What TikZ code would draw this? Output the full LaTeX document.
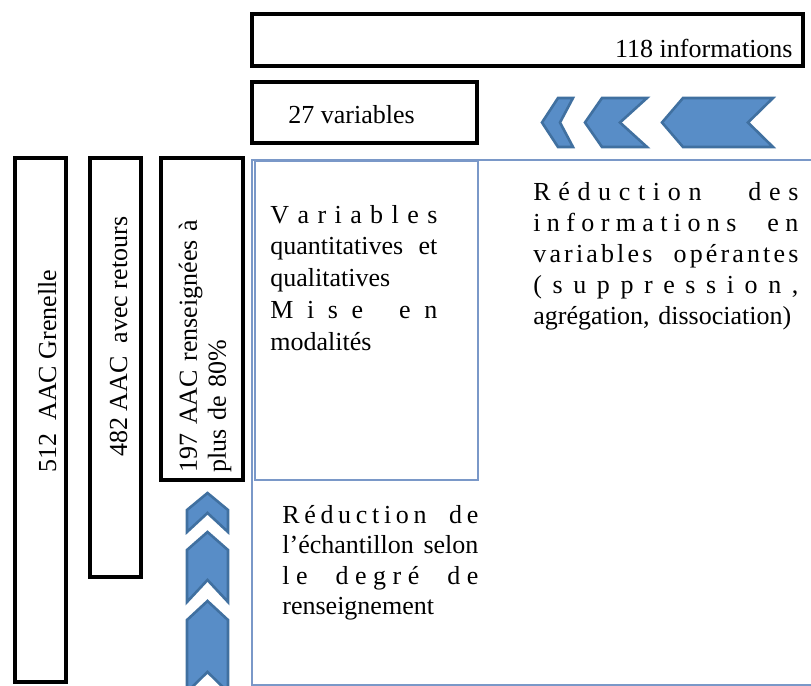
\documentclass[tikz,border=0pt]{standalone}
\usepackage{fontspec}
\setmainfont{Liberation Serif}
\usetikzlibrary{fit}
\definecolor{chevFill}{RGB}{88,141,199}
\definecolor{chevLine}{RGB}{64,112,160}
\definecolor{frameBlue}{RGB}{122,152,200}
\newcommand{\tikzChevronLeft}[4]{
  \path[chev] (#1,122.5) -- (#2,98) -- (#4,98) -- (#3,122.5) -- (#4,147) -- (#2,147) -- cycle;
}
\newcommand{\tikzChevronUp}[4]{
  \path[chev] (207.5,#1) -- (228,#2) -- (228,#4) -- (207.5,#3) -- (187,#4) -- (187,#2) -- cycle;
}
\newcommand{\wgap}[1]{\ \hspace{0pt plus #1fil}}

\begin{document}
\begin{tikzpicture}[x=0.5pt, y=-0.5pt,
  box/.style={draw, line width=2pt, inner sep=0pt},
  frameLine/.style={draw=frameBlue, line width=0.6pt, inner sep=0pt},
  chev/.style={fill=chevFill, draw=chevLine, line width=1.3pt},
  lbl/.style={font=\fontsize{13}{15.5}\selectfont, inner sep=0pt},
  blk/.style={lbl, align=left}]
  \useasboundingbox (0,0) rectangle (811,686);
  \clip (0,0) rectangle (811,686);

  % blue frames
  \node[frameLine, fit={(252,160) (830,685)}] (frame) {};
  \node[frameLine, fit={(255,161) (478,480)}] (varBlock) {};

  % boxes
  \node[box, fit={(252,14) (803,66)}] (info) {};
  \node[box, fit={(252,82) (477,143)}] (vars) {};
  \node[box, fit={(15,158) (66,682)}] (aac512) {};
  \node[box, fit={(90,158) (141,577)}] (aac482) {};
  \node[box, fit={(161,158) (243,480)}] (aac197) {};

  \node[lbl, anchor=base east] (infoText) at (793,57) {118 informations};
  \node[lbl, anchor=base west] (varsText) at (288,123) {27 variables};
  \node[lbl, rotate=90, anchor=base west] (aac512Text) at (56,473) {512\ \ AAC Grenelle};
  \node[lbl, rotate=90, anchor=base west] (aac482Text) at (127,457) {482 AAC\ \ avec retours};
  \node[blk, rotate=90, anchor=base west, text width=140pt,
        font=\fontsize{13}{14.5}\selectfont] (aac197Text) at (197,473)
        {197 AAC renseignées à\\plus de 80\%};

  % text blocks
  \node[blk, text width=83.5pt, anchor=base west,
        font=\fontsize{13}{15.9}\selectfont] (varDesc) at (270,223) {
    \makebox[\linewidth][s]{V\hfil a\hfil r\hfil i\hfil a\hfil b\hfil l\hfil e\hfil s}\\
    \makebox[\linewidth][s]{quantitatives\hfil et}\\
    qualitatives\\
    \makebox[\linewidth][s]{M\hfil i\hfil s\hfil e\wgap{2}e\hfil n}\\
    modalités};
  \node[blk, text width=132.5pt, anchor=base west,
        font=\fontsize{13}{15.5}\selectfont] (infoDesc) at (533,200) {
    \makebox[\linewidth][s]{R\hfil é\hfil d\hfil u\hfil c\hfil t\hfil i\hfil o\hfil n\wgap{5}d\hfil e\hfil s}\\
    \makebox[\linewidth][s]{i\hfil n\hfil f\hfil o\hfil r\hfil m\hfil a\hfil t\hfil i\hfil o\hfil n\hfil s\wgap{3.5}e\hfil n}\\
    \makebox[\linewidth][s]{v\hfil a\hfil r\hfil i\hfil a\hfil b\hfil l\hfil e\hfil s\wgap{4}o\hfil p\hfil é\hfil r\hfil a\hfil n\hfil t\hfil e\hfil s}\\
    \makebox[\linewidth][s]{(\hfil s\hfil u\hfil p\hfil p\hfil r\hfil e\hfil s\hfil s\hfil i\hfil o\hfil n\hfil ,}\\
    agrégation, dissociation)};
  \node[blk, text width=98pt, anchor=base west,
        font=\fontsize{13}{15.25}\selectfont] (aacDesc) at (282,523) {
    \makebox[\linewidth][s]{R\hfil é\hfil d\hfil u\hfil c\hfil t\hfil i\hfil o\hfil n\wgap{3}d\hfil e}\\
    \makebox[\linewidth][s]{l’échantillon\hfil selon}\\
    \makebox[\linewidth][s]{l\hfil e\wgap{3}d\hfil e\hfil g\hfil r\hfil é\wgap{3}d\hfil e}\\
    renseignement};

  % chevrons
  \tikzChevronLeft{542}{558}{560}{573}
  \tikzChevronLeft{585}{602}{620}{647}
  \tikzChevronLeft{662}{683}{748}{773}
  \tikzChevronUp{493}{510}{513}{532}
  \tikzChevronUp{532}{550}{580}{602}
  \tikzChevronUp{601}{620}{672}{692}
\end{tikzpicture}
\end{document}
